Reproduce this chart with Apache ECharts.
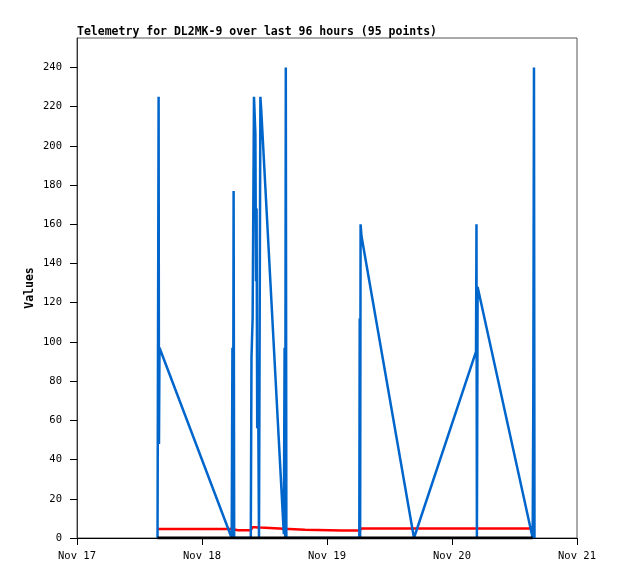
<!DOCTYPE html>
<html>
<head>
<meta charset="utf-8">
<script src="https://cdn.jsdelivr.net/npm/echarts@6/dist/echarts.min.js"></script>
<style>
html,body{margin:0;padding:0;background:#fff;}
#c{width:618px;height:579px;}
</style>
</head>
<body>
<div id="c"></div>
<script>
// hours after Nov 17 00:00
var hours = [15.46,15.67,15.74,15.84,29.70,29.84,29.95,30.07,30.18,30.91,
             33.37,33.50,33.72,33.98,34.25,34.37,34.48,34.60,34.75,34.94,
             35.21,35.38,39.71,39.86,39.97,40.09,40.20,43.78,50.88,54.20,
             54.28,54.36,54.45,54.62,64.70,76.61,76.70,76.78,76.92,87.49,
             87.61,87.74,87.84];
var blueValues = [0,225,48,97,0,97,0,177,0,0,
                  0,92,112,225,206,131,168,56,88,0,
                  225,218,2,97,0,240,0,0,0,0,
                  112,0,160,154,0,95,160,0,128,0,
                  72,240,0];
var redValues = [4.6,4.6,4.6,4.6,4.6,4.6,4.6,4.6,4.5,4.0,
                 4.0,4.2,5.5,5.5,5.5,5.5,5.4,5.4,5.4,5.3,
                 5.3,5.3,4.7,4.7,4.7,4.7,4.7,4.2,3.8,3.8,
                 4.8,4.8,4.8,4.8,4.8,4.8,4.8,4.8,4.8,4.8,
                 4.8,4.8,4.8];
var blackValues = [0,0,0,0,0,0,0,0,0,0,0,0,0,0,0,0,0,0,0,0,0,0,0,0,0,0,0,0,0,0,0,0,0,0,0,0,0,0,0,0,0,0,0];
var xTickLabels = ['Nov 17','Nov 18','Nov 19','Nov 20','Nov 21'];
var yTicks = [0,20,40,60,80,100,120,140,160,180,200,220,240];
var titleText = 'Telemetry for DL2MK-9 over last 96 hours (95 points)';
var yName = 'Values';

function pairs(vals){ return hours.map(function(h,i){ return [h, vals[i]]; }); }
// black and red series end before the last blue spike
var blackPairs = pairs(blackValues).slice(0, 41);
var redPairs = pairs(redValues).slice(0, 41);

var mono = 'DejaVu Sans Mono';
var chart = echarts.init(document.getElementById('c'), null, {renderer:'canvas'});
chart.setOption({
  animation:false,
  backgroundColor:'#fff',
  title:{text:titleText,left:77,top:26,padding:0,
    textStyle:{fontFamily:mono,fontSize:11.5,fontWeight:'bold',color:'#000'}},
  grid:{left:77,top:38,right:41,bottom:41,show:true,borderColor:'#555',borderWidth:1,containLabel:false},
  xAxis:{type:'value',min:0,max:96,interval:24,
    axisLine:{lineStyle:{color:'#000',width:1}},
    axisTick:{show:true,length:7,lineStyle:{color:'#000'}},
    splitLine:{show:false},
    axisLabel:{margin:13,color:'#000',fontFamily:mono,fontSize:10.5,
      formatter:function(v){ return xTickLabels[Math.round(v/24)] || ''; }}},
  yAxis:{type:'value',min:0,max:255,name:yName,nameLocation:'middle',nameGap:41,nameMoveOverlap:false,
    nameTextStyle:{fontFamily:mono,fontSize:11.5,fontWeight:'bold',color:'#000'},
    axisLine:{show:true,lineStyle:{color:'#333',width:1}},
    axisTick:{show:true,length:7,lineStyle:{color:'#000'},customValues:yTicks},
    splitLine:{show:false},
    axisLabel:{margin:15,color:'#000',fontFamily:mono,fontSize:10.5,customValues:yTicks}},
  series:[
    {type:'line',data:redPairs,showSymbol:false,symbol:'none',lineStyle:{color:'#ff0000',width:2.5},z:2},
    {type:'line',data:pairs(blueValues),showSymbol:false,symbol:'none',lineStyle:{color:'#0066cc',width:2.5},z:3},
    {type:'line',data:blackPairs,showSymbol:false,symbol:'none',lineStyle:{color:'#000',width:3},z:4}
  ]
});
</script>
</body>
</html>
